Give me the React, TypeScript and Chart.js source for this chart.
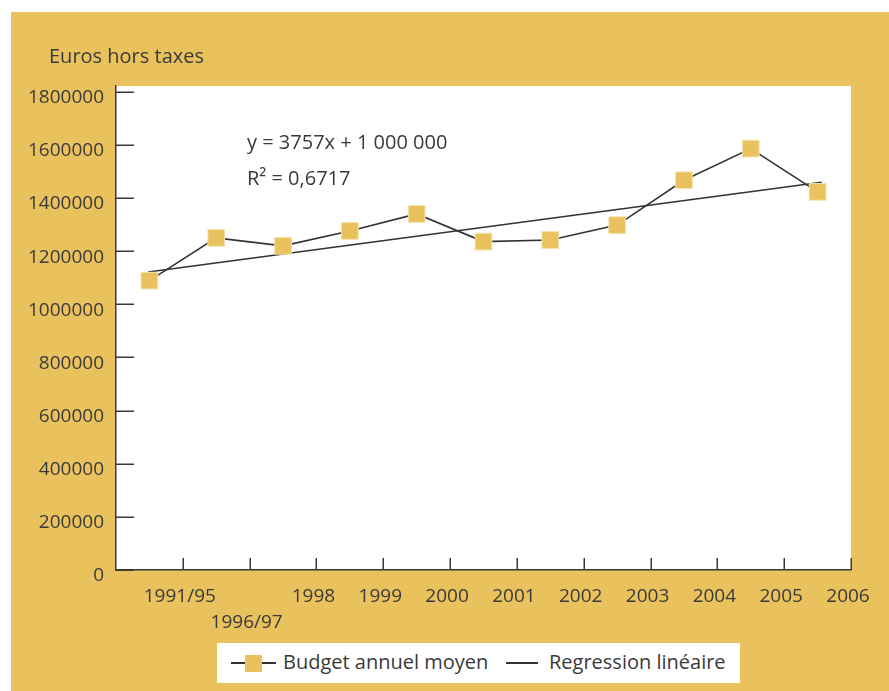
import React, { useEffect, useRef } from 'react';
import { Chart, registerables } from 'chart.js';

Chart.register(...registerables);

// ---- data ----
const categories = ['1991/95', '1996/97', '1998', '1999', '2000', '2001', '2002', '2003', '2004', '2005', '2006'];
const budget = [1089000, 1250000, 1220000, 1276000, 1340000, 1236000, 1242000, 1298000, 1467000, 1586000, 1423000];
const regressionX = [0.48, 10.56];
const regressionY = [1121600, 1459200];
const yTicks = [0, 200000, 400000, 600000, 800000, 1000000, 1200000, 1400000, 1600000, 1800000];
const yMax = 1821600;
const titleText = 'Euros hors taxes';
const equationText = 'y = 3757x + 1 000 000';
const r2Text = 'R² = 0,6717';
const seriesNames = ['Budget annuel moyen', 'Regression linéaire'];

const YELLOW = '#EAC25D';
const TEXT = '#3a3a3a';
const AXIS = '#3a3a3a';
const FONT = '"Open Sans", Lato, "DejaVu Sans", sans-serif';

const plotBg = {
  id: 'plotBg',
  beforeDraw(chart: any) {
    const { ctx, chartArea } = chart;
    ctx.save();
    ctx.fillStyle = '#ffffff';
    ctx.fillRect(chartArea.left, chartArea.top, chartArea.right - chartArea.left, chartArea.bottom - chartArea.top);
    ctx.restore();
  },
};

const inwardTicks = {
  id: 'inwardTicks',
  afterDraw(chart: any) {
    const { ctx, chartArea, scales } = chart;
    ctx.save();
    ctx.strokeStyle = AXIS;
    ctx.lineWidth = 1.5;
    yTicks.forEach((v) => {
      const py = Math.round(scales.y.getPixelForValue(v)) + 0.25;
      ctx.beginPath();
      ctx.moveTo(chartArea.left, py);
      ctx.lineTo(chartArea.left + 18, py);
      ctx.stroke();
    });
    categories.forEach((_, i) => {
      const px = Math.round(scales.x.getPixelForValue(i + 1)) + 0.25;
      ctx.beginPath();
      ctx.moveTo(px, chartArea.bottom);
      ctx.lineTo(px, chartArea.bottom - 12);
      ctx.stroke();
    });
    ctx.restore();
  },
};

export default function App() {
  const ref = useRef<HTMLCanvasElement | null>(null);

  useEffect(() => {
    if (!ref.current) return;
    const chart = new Chart(ref.current, {
      type: 'line',
      data: {
        datasets: [
          {
            label: seriesNames[0],
            data: budget.map((v, i) => ({ x: i + 0.5, y: v })),
            borderColor: '#333333',
            borderWidth: 1.6,
            pointStyle: 'rect',
            pointRadius: 11.8,
            pointBackgroundColor: YELLOW,
            pointBorderColor: '#F5E1AE',
            pointBorderWidth: 1,
            order: 0,
          },
          {
            label: seriesNames[1],
            data: regressionX.map((x, i) => ({ x, y: regressionY[i] })),
            borderColor: '#333333',
            borderWidth: 1.5,
            pointRadius: 0,
            order: 1,
          },
        ],
      },
      options: {
        responsive: false,
        animation: false,
        devicePixelRatio: 1,
        layout: { padding: { top: 74, right: 38, bottom: 0, left: 0 } },
        plugins: {
          legend: { display: false },
          tooltip: { enabled: false },
          title: { display: false },
        },
        scales: {
          x: {
            type: 'linear',
            min: 0,
            max: 11,
            grid: { display: false, drawTicks: false },
            border: { display: true, color: AXIS, width: 1.5 },
            ticks: {
              stepSize: 1,
              autoSkip: false,
              maxRotation: 0,
              minRotation: 0,
              padding: 13,
              labelOffset: -3,
              color: TEXT,
              font: { family: FONT, size: 19, weight: 400, lineHeight: 1.4 },
              callback: (value: any) => {
                const v = Number(value);
                if (v !== Math.round(v)) return '';
                const i = v - 1;
                if (i < 0 || i >= categories.length) return '';
                return i === 1 ? ['', categories[i]] : categories[i];
              },
            },
            afterFit: (scale: any) => {
              scale.height = 121;
            },
          },
          y: {
            type: 'linear',
            min: 0,
            max: yMax,
            grid: { display: false, drawTicks: false },
            border: { display: true, color: AXIS, width: 1.5 },
            afterBuildTicks: (scale: any) => {
              scale.ticks = yTicks.map((v) => ({ value: v }));
            },
            ticks: {
              padding: 12,
              labelOffset: 6,
              color: TEXT,
              font: { family: FONT, size: 19, weight: 400 },
              callback: (value: any) => String(value),
            },
            afterFit: (scale: any) => {
              scale.width = 105;
            },
          },
        },
      },
      plugins: [plotBg, inwardTicks],
    } as any);
    return () => chart.destroy();
  }, []);

  const textStyle: React.CSSProperties = {
    position: 'absolute',
    fontFamily: FONT,
    fontSize: 20,
    fontWeight: 400,
    color: TEXT,
    lineHeight: '22px',
    whiteSpace: 'nowrap',
  };

  return (
    <div
      style={{
        position: 'absolute',
        left: 11,
        top: 12,
        width: 878,
        height: 679,
        background: YELLOW,
        overflow: 'hidden',
      }}
    >
      <canvas ref={ref} width={878} height={679} style={{ display: 'block', width: 878, height: 679 }} />
      <div style={{ ...textStyle, left: 38, top: 33 }}>{titleText}</div>
      <div style={{ ...textStyle, left: 236, top: 119 }}>{equationText}</div>
      <div style={{ ...textStyle, left: 236, top: 155 }}>{r2Text}</div>
      <div
        style={{
          position: 'absolute',
          left: 206,
          top: 631,
          width: 523,
          height: 40,
          background: '#ffffff',
        }}
      >
        <div style={{ position: 'absolute', left: 14, top: 19, width: 45, height: 1.5, background: '#333' }} />
        <div
          style={{
            position: 'absolute',
            left: 28,
            top: 12,
            width: 17,
            height: 17,
            background: YELLOW,
          }}
        />
        <div style={{ ...textStyle, left: 66, top: 8 }}>{seriesNames[0]}</div>
        <div style={{ position: 'absolute', left: 289, top: 19, width: 32, height: 1.5, background: '#333' }} />
        <div style={{ ...textStyle, left: 332, top: 8 }}>{seriesNames[1]}</div>
      </div>
    </div>
  );
}
